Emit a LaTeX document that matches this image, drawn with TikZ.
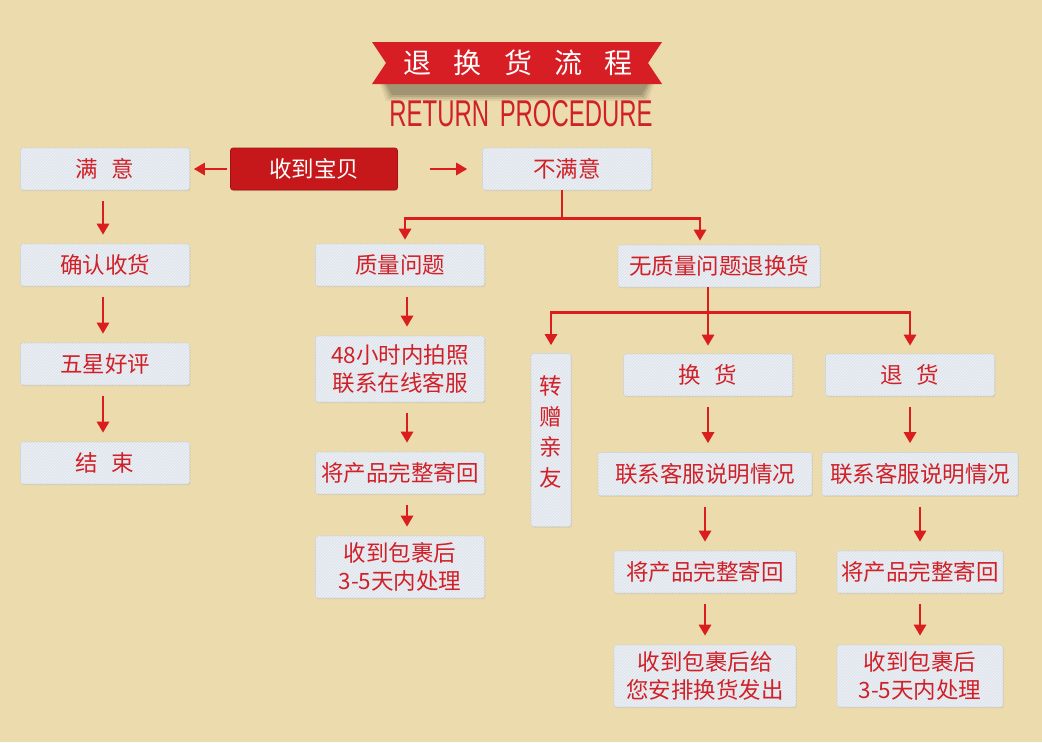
\documentclass[tikz,border=0pt]{standalone}
\usepackage{fontspec}
\newfontfamily\cjk{Noto Sans CJK SC}
\setsansfont{Liberation Sans}
\usetikzlibrary{arrows.meta,shadows,patterns}
\definecolor{bg}{RGB}{236,219,172}
\definecolor{boxfill}{RGB}{224,229,236}
\definecolor{boxedge}{RGB}{205,210,218}
\definecolor{txtred}{RGB}{208,32,40}
\definecolor{arrred}{RGB}{218,30,30}
\definecolor{bannerred}{RGB}{214,30,36}
\definecolor{redbox}{RGB}{198,24,26}
\begin{document}
\begin{tikzpicture}[x=1pt,y=-1pt,
  plainbox/.style={draw=boxedge, line width=0.6pt, rounded corners=2.5pt,
    inner sep=0pt, minimum height=42pt, minimum width=169pt, text=txtred,
    font=\cjk\fontsize{22.5}{28}\selectfont, align=center,
    drop shadow={shadow xshift=0.8pt, shadow yshift=-1.2pt, opacity=0.18}},
  box/.style={plainbox, fill=boxfill,
    postaction={pattern=north east lines, pattern color=white!55!boxfill}},
  arr/.style={draw=arrred, line width=2.8pt, -{Triangle[length=11pt,width=12pt]}},
  vstep/.style={arr, shorten <=11pt, shorten >=9pt},
  trunk/.style={draw=arrred, line width=2.8pt}]
% background
\fill[bg] (0,0) rectangle (1042,742);
\useasboundingbox (0,0) rectangle (1042,742);
% banner shadow (soft)
\foreach \d/\o in {8/0.06,6/0.08,4/0.10,2/0.12}{
  \fill[black, opacity=\o] (388-\d,84) -- (646+\d,84) -- (640+\d,93+\d) -- (394-\d,93+\d) -- cycle;}
% banner
\fill[bannerred] (372,42) -- (662,42) -- (648,63) -- (662,84) -- (372,84) -- (386,63) -- cycle;
\node[font=\cjk\fontsize{28}{28}\selectfont, text=white, inner sep=0pt] (title) at (518,63)
  {退\hspace{0.8em}换\hspace{0.8em}货\hspace{0.8em}流\hspace{0.8em}程};
\node[text=txtred, inner sep=0pt] (en) at (521,114)
  {\resizebox{263pt}{26pt}{\sffamily RETURN\hspace{0.45em}PROCEDURE}};
% row 1
\node[box] (my) at (105,169) {满\hspace{0.6em}意};
\node[plainbox, fill=redbox, draw=redbox!80!black, text=white, minimum width=167pt] (sd) at (314,169) {收到宝贝};
\node[box] (bmy) at (567,169) {不满意};
% left column
\node[box] (qr) at (105,265) {确认收货};
\node[box] (wx) at (105,364) {五星好评};
\node[box] (js) at (105,463) {结\hspace{0.6em}束};
% quality column
\node[box] (zl) at (400,265) {质量问题};
\node[box, minimum height=66pt] (zl1) at (400,369) {48小时内拍照\\联系在线客服};
\node[box] (zl2) at (400,473) {将产品完整寄回};
\node[box, minimum height=62pt] (zl3) at (400,567) {收到包裹后\\3-5天内处理};
% no quality problem
\node[box, minimum width=202pt] (wzl) at (719,266) {无质量问题退换货};
\node[box, minimum width=40pt, minimum height=173pt] (zz) at (551,440) {};
\node[text=txtred, inner sep=0pt, align=center, font=\cjk\fontsize{22.5}{30.5}\selectfont] (zzt) at (551,432) {转\\赠\\亲\\友};
\node[box] (hh) at (708,375) {换\hspace{0.6em}货};
\node[box] (th) at (910,375) {退\hspace{0.6em}货};
\node[box, minimum width=214pt, minimum height=43pt] (hh1) at (705,474) {联系客服说明情况};
\node[box, minimum width=182pt] (hh2) at (705,572) {将产品完整寄回};
\node[box, minimum width=182pt, minimum height=62pt] (hh3) at (705,676) {收到包裹后给\\您安排换货发出};
\node[box, minimum width=196pt, minimum height=43pt] (th1) at (920,474) {联系客服说明情况};
\node[box, minimum width=166pt] (th2) at (920,572) {将产品完整寄回};
\node[box, minimum width=166pt, minimum height=62pt] (th3) at (920,676) {收到包裹后\\3-5天内处理};
% horizontal arrows
\draw[arr, shorten <=3pt, shorten >=4pt] (sd.west) -- (my.east);
\draw[arr, shorten <=32pt, shorten >=15pt] (sd.east) -- (bmy.west);
% left column arrows
\draw[vstep] ([xshift=-2pt]my.south) -- ([xshift=-2pt]qr.north);
\draw[vstep] ([xshift=-2pt]qr.south) -- ([xshift=-2pt]wx.north);
\draw[vstep] ([xshift=-2pt]wx.south) -- ([xshift=-2pt]js.north);
% quality column arrows
\draw[vstep] ([xshift=7pt]zl.south) -- ([xshift=7pt]zl1.north);
\draw[vstep] ([xshift=7pt]zl1.south) -- ([xshift=7pt]zl2.north);
\draw[vstep] ([xshift=7pt]zl2.south) -- ([xshift=7pt]zl3.north);
% exchange column arrows
\draw[vstep] (hh.south) -- (hh.south |- hh1.north);
\draw[vstep] (hh1.south) -- (hh1.south |- hh2.north);
\draw[vstep] (hh2.south) -- (hh2.south |- hh3.north);
% return column arrows
\draw[vstep] (th.south) -- (th.south |- th1.north);
\draw[vstep] (th1.south) -- (th1.south |- th2.north);
\draw[vstep] (th2.south) -- (th2.south |- th3.north);
% tree 1
\draw[trunk] ([xshift=-5pt]bmy.south) -- ++(0,28) coordinate (j1);
\draw[arr, shorten >=4pt] (j1) -| ([xshift=5pt]zl.north);
\draw[arr, shorten >=4pt] (j1) -| ([xshift=-19pt]wzl.north);
% tree 2
\draw[trunk] (wzl.south -| hh.north) -- ++(0,25) coordinate (j2);
\draw[arr, shorten >=8pt] (j2) -- (hh.north);
\draw[arr, shorten >=8pt] (j2) -| (zz.north);
\draw[arr, shorten >=8pt] (j2) -| (th.north);
\end{tikzpicture}
\end{document}
